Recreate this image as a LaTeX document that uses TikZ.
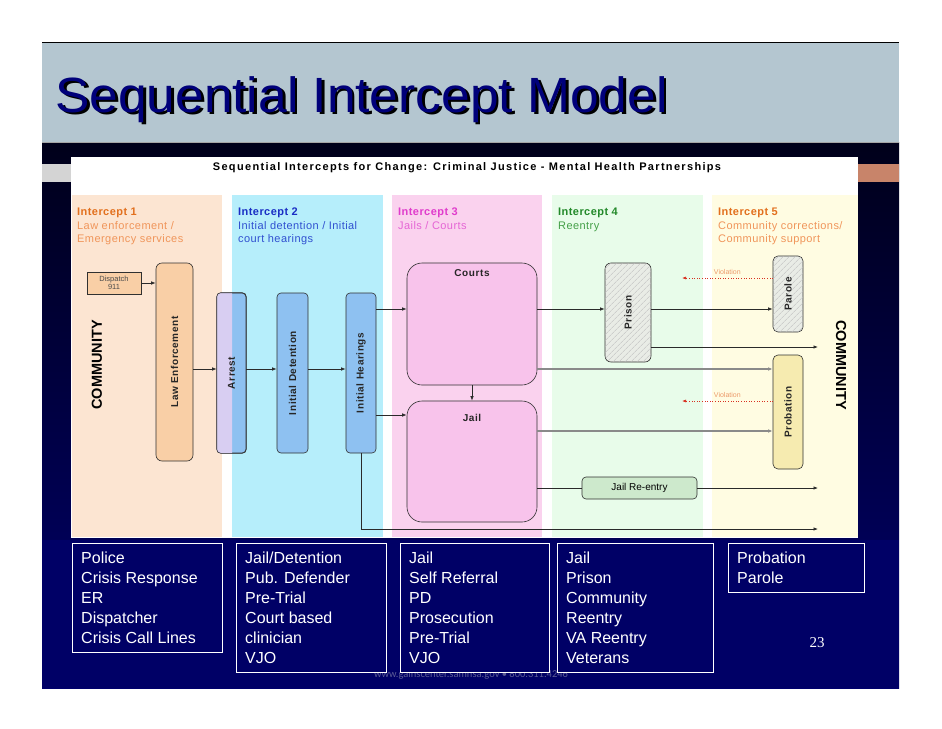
\documentclass[tikz,border=0pt]{standalone}
\usepackage{fontspec}
\setmainfont{Liberation Sans}
\newfontfamily\lsp[LetterSpace=6]{Liberation Sans}
\newfontfamily\hsp[LetterSpace=12]{Liberation Sans}
\newfontfamily\isp[LetterSpace=4]{Liberation Sans}
\newfontfamily\serifnum{Liberation Serif}
\newfontfamily\footfont{Carlito}
\usetikzlibrary{arrows.meta,patterns.meta}
\definecolor{titleband}{HTML}{B4C6D0}
\definecolor{titlecol}{HTML}{00007A}
\definecolor{navytop}{HTML}{00001A}
\definecolor{navybot}{HTML}{00006C}
\definecolor{navybox}{HTML}{000066}
\definecolor{orangebar}{HTML}{C8846A}
\definecolor{greybar}{HTML}{D4D4D4}
\definecolor{pan1}{HTML}{FCE5D2}
\definecolor{pan2}{HTML}{B6EEFB}
\definecolor{pan3}{HTML}{FAD2EE}
\definecolor{pan4}{HTML}{E8FCEA}
\definecolor{pan5}{HTML}{FFFCE2}
\definecolor{lefill}{HTML}{F9CFA6}
\definecolor{bluefill}{HTML}{8EC1F1}
\definecolor{lavfill}{HTML}{D8CEF2}
\definecolor{pinkfill}{HTML}{F8C3EB}
\definecolor{hatchfill}{HTML}{E9ECE6}
\definecolor{probfill}{HTML}{F6EBB0}
\definecolor{jrefill}{HTML}{CDE9CC}
\definecolor{edge}{HTML}{303030}
\definecolor{linecol}{HTML}{2A2A2A}
\definecolor{greyline}{HTML}{8A8A8A}
\definecolor{violred}{HTML}{D83020}
\definecolor{violtext}{HTML}{EC9A6A}
\definecolor{iOneA}{HTML}{E2701E}
\definecolor{iOneB}{HTML}{F0955A}
\definecolor{iTwoA}{HTML}{1A2EC4}
\definecolor{iTwoB}{HTML}{3050D0}
\definecolor{iThreeA}{HTML}{E03CCC}
\definecolor{iThreeB}{HTML}{E565D5}
\definecolor{iFourA}{HTML}{23892A}
\definecolor{iFourB}{HTML}{44A048}
\definecolor{footcol}{HTML}{5C5C96}
\newcommand{\titletext}{Sequential Intercept Model}
\tikzset{
  boxline/.style={draw=edge, line width=0.6pt},
  flowbox/.style={boxline, rounded corners=4pt, inner sep=0pt},
  boxlab/.style={font=\lsp\bfseries\fontsize{10}{10}\selectfont, inner sep=0pt, text=black!85},
  arr/.style={draw=linecol, line width=0.7pt, -{Latex[length=4.5pt,width=3.5pt]}},
  garr/.style={draw=greyline, line width=1.3pt, -{Latex[length=4.5pt,width=3.5pt]}},
  plainline/.style={draw=linecol, line width=0.7pt},
  varr/.style={draw=violred, line width=0.6pt, dotted, -{Latex[length=4pt,width=3pt]}},
  ilab/.style={anchor=north west, align=left, inner sep=0pt, font=\isp\fontsize{11}{13.5}\selectfont},
  bbox/.style={draw=white, line width=0.9pt, fill=navybox, anchor=north west, inner sep=0pt},
  btext/.style={anchor=north west, align=left, inner sep=0pt, text=white, font=\fontsize{16}{20}\selectfont},
  hatch/.style={flowbox, fill=hatchfill, postaction={pattern={Lines[angle=45,distance=4pt,line width=0.5pt]}, pattern color=black!25}}
}
\begin{document}
\begin{tikzpicture}[x=1pt,y=-1pt]
\useasboundingbox (0,0) rectangle (942,728);
\fill[white] (0,0) rectangle (942,728);
% slide background
\shade[top color=navytop, bottom color=navybot] (42,142) rectangle (899,688);
\fill[navybox] (42,540) rectangle (899,688);
\fill[titleband] (42,42) rectangle (899,142);
\draw[black, line width=1pt] (42,42) -- (899,42);
\draw[gray!70, line width=0.6pt] (42,142) -- (899,142);
\fill[greybar] (42,164) rectangle (71,182);
\fill[orangebar] (858,164) rectangle (899,182);
% title with drop shadow
\node[anchor=base west, inner sep=0pt, text=titlecol, font=\fontsize{49.5}{49.5}\selectfont] (title) at (55,112)
  {\scalebox{1.04}[1]{\makebox[0pt][l]{\hspace{2.8pt}\raisebox{-2.8pt}{\textcolor{black}{\titletext}}}\titletext}};
% white diagram area
\fill[white] (71,157) rectangle (858,538);
\node[font=\hsp\bfseries\fontsize{11}{11}\selectfont, inner sep=0pt] (header) at (467,168) {Sequential Intercepts for Change: Criminal Justice - Mental Health Partnerships};
% panels
\fill[pan1] (72,195) rectangle (222,537);
\fill[pan2] (232,195) rectangle (383,537);
\fill[pan3] (392,195) rectangle (542,537);
\fill[pan4] (552,195) rectangle (703,537);
\fill[pan5] (712,195) rectangle (858,537);
% intercept labels
\node[ilab] (i1) at (77,208) {\textcolor{iOneA}{\bfseries Intercept 1}\\\textcolor{iOneB}{Law enforcement /}\\\textcolor{iOneB}{Emergency services}};
\node[ilab] (i2) at (238,208) {\textcolor{iTwoA}{\bfseries Intercept 2}\\\textcolor{iTwoB}{Initial detention / Initial}\\\textcolor{iTwoB}{court hearings}};
\node[ilab] (i3) at (398,208) {\textcolor{iThreeA}{\bfseries Intercept 3}\\\textcolor{iThreeB}{Jails / Courts}};
\node[ilab] (i4) at (558,208) {\textcolor{iFourA}{\bfseries Intercept 4}\\\textcolor{iFourB}{Reentry}};
\node[ilab] (i5) at (718,208) {\textcolor{iOneA}{\bfseries Intercept 5}\\\textcolor{iOneB}{Community corrections/}\\\textcolor{iOneB}{Community support}};
% community labels
\node[rotate=90, font=\bfseries\fontsize{14.5}{14.5}\selectfont, inner sep=0pt] (commL) at (97,365) {COMMUNITY};
\node[rotate=-90, font=\bfseries\fontsize{14.5}{14.5}\selectfont, inner sep=0pt] (commR) at (841,365) {COMMUNITY};
% boxes
\node[boxline, fill=lefill, minimum width=54pt, minimum height=22pt, inner sep=0pt, align=center, font=\fontsize{7.5}{8.5}\selectfont, text=black!70] (dispatch) at (114,283) {Dispatch\\911};
\node[flowbox, fill=lefill, rounded corners=6pt, minimum width=37pt, minimum height=198pt] (le) at (174.5,362) {};
\node[boxlab, rotate=90] (lelab) at (le) {Law Enforcement};
\node[flowbox, fill=bluefill, minimum width=29pt, minimum height=160pt] (arrest) at (231.5,373) {};
\begin{scope}
\clip (210,280) rectangle (232,460);
\fill[lavfill, rounded corners=4pt] (arrest.south west) rectangle (arrest.north east);
\end{scope}
\draw[boxline, rounded corners=4pt] (arrest.south west) rectangle (arrest.north east);
\node[boxlab, rotate=90] (arrestlab) at (arrest) {Arrest};
\node[flowbox, fill=bluefill, minimum width=31pt, minimum height=160pt] (id) at (292.5,373) {};
\node[boxlab, rotate=90] (idlab) at (id) {Initial Detention};
\node[flowbox, fill=bluefill, minimum width=30pt, minimum height=160pt] (ih) at (361,373) {};
\node[boxlab, rotate=90] (ihlab) at (ih) {Initial Hearings};
\node[flowbox, fill=pinkfill, rounded corners=15pt, minimum width=130pt, minimum height=122pt] (courts) at (472,324) {};
\node[boxlab] (courtslab) at (472,273) {Courts};
\node[flowbox, fill=pinkfill, rounded corners=15pt, minimum width=130pt, minimum height=121pt] (jail) at (472,461.5) {};
\node[boxlab] (jaillab) at (472,418) {Jail};
\node[hatch, rounded corners=6pt, minimum width=46pt, minimum height=99pt] (prison) at (628,312.5) {};
\node[boxlab, rotate=90] (prisonlab) at (prison) {Prison};
\node[hatch, rounded corners=5pt, minimum width=30pt, minimum height=76pt] (parole) at (788,294) {};
\node[boxlab, rotate=90] (parolelab) at (parole) {Parole};
\node[flowbox, fill=probfill, rounded corners=5pt, minimum width=30pt, minimum height=114pt] (probation) at (788,412) {};
\node[boxlab, rotate=90] (probationlab) at (probation) {Probation};
\node[flowbox, fill=jrefill, minimum width=115pt, minimum height=22pt, font=\fontsize{10}{10}\selectfont] (jre) at (639.5,488) {Jail Re-entry};
% row coordinates
\coordinate (rowA) at (0,309);
\coordinate (rowB) at (0,347);
\coordinate (rowC) at (0,369);
\coordinate (rowD) at (0,415);
\coordinate (rowE) at (0,431);
\coordinate (rowG) at (0,529);
\coordinate (vA) at (0,278);
\coordinate (vB) at (0,401);
\coordinate (commx) at (818,0);
\coordinate (violx) at (682,0);
% connectors
\draw[arr] (dispatch.east) -- (dispatch.east -| le.west);
\draw[arr] (le.east |- rowC) -- (arrest.west |- rowC);
\draw[arr] (arrest.east |- rowC) -- (id.west |- rowC);
\draw[arr] (id.east |- rowC) -- (ih.west |- rowC);
\draw[arr] (ih.east |- rowA) -- (courts.west |- rowA);
\draw[arr] (ih.east |- rowD) -- (jail.west |- rowD);
\draw[arr] (courts.south) -- (jail.north);
\draw[arr] (courts.east |- rowA) -- (prison.west |- rowA);
\draw[arr] (prison.east |- rowA) -- (parole.west |- rowA);
\draw[arr] (prison.east |- rowB) -- (commx |- rowB);
\draw[garr] (courts.east |- rowC) -- (probation.west |- rowC);
\draw[garr] (jail.east |- rowE) -- (probation.west |- rowE);
\draw[plainline] (jail.east |- jre.west) -- (jre.west);
\draw[arr] (jre.east) -- (jre.east -| commx);
\draw[arr] (ih.south) |- (commx |- rowG);
\draw[varr] (parole.west |- vA) -- (violx |- vA) node[midway, above=3pt, inner sep=0pt, font=\fontsize{7}{7}\selectfont, text=violtext] (v1lab) {Violation};
\draw[varr] (probation.west |- vB) -- (violx |- vB) node[midway, above=3pt, inner sep=0pt, font=\fontsize{7}{7}\selectfont, text=violtext] (v2lab) {Violation};
% footer
\node[font=\footfont\fontsize{10.5}{10.5}\selectfont, text=footcol, inner sep=0pt] (footer) at (471,675) {www.gainscenter.samhsa.gov \textbullet\ 800.311.4246};
% bottom boxes
\node[bbox, minimum width=150pt, minimum height=109pt] (b1) at (72,543) {};
\node[bbox, minimum width=150pt, minimum height=129pt] (b2) at (236,543) {};
\node[bbox, minimum width=149pt, minimum height=129pt] (b3) at (400,543) {};
\node[bbox, minimum width=156pt, minimum height=129pt] (b4) at (557,543) {};
\node[bbox, minimum width=136pt, minimum height=49pt] (b5) at (728,543) {};
\node[btext] (b1t) at (81,552) {Police\\Crisis Response\\ER\\Dispatcher\\Crisis Call Lines};
\node[btext] (b2t) at (245,552) {Jail/Detention\\Pub. Defender\\Pre-Trial\\Court based\\clinician\\VJO};
\node[btext] (b3t) at (409,552) {Jail\\Self Referral\\PD\\Prosecution\\Pre-Trial\\VJO};
\node[btext] (b4t) at (566,552) {Jail\\Prison\\Community\\Reentry\\VA Reentry\\Veterans};
\node[btext] (b5t) at (737,552) {Probation\\Parole};
\node[font=\serifnum\fontsize{15}{15}\selectfont, text=white, inner sep=0pt] (pagenum) at (817,643) {23};
\end{tikzpicture}
\end{document}
